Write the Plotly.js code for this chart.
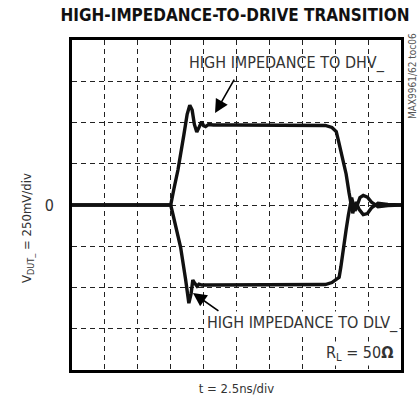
<!DOCTYPE html>
<html>
<head>
<meta charset="utf-8">
<script src="https://cdn.plot.ly/plotly-3.0.1.min.js"></script>
<style>
  html, body { margin: 0; padding: 0; background: #fff; }
  #plot { width: 419px; height: 405px; }
  #plot text { font-stretch: condensed; }
</style>
</head>
<body>
<div id="plot"></div>
<script>
// Time axis in ns (2.5ns/div), voltage in mV (250mV/div)
const timeDhv = [0, 2.5, 5, 7.38, 7.5, 7.75, 8.05, 8.5, 8.75, 8.95, 9.13, 9.3, 9.48, 9.68, 9.85, 10, 10.15, 10.38, 10.75,
  12.5, 15, 17.5, 18.75, 19.25, 19.75, 20.08, 20.25, 20.5, 20.83, 21.05, 21.2, 21.33, 21.45, 21.6, 21.8, 22.13, 22.45,
  22.75, 23.25, 24, 25];
const voltDhv = [0, 0, 2, 2, 0, 100, 212, 425, 550, 605, 575, 488, 442, 475, 505, 480, 475, 488, 485,
  485, 485, 485, 485, 482, 470, 445, 388, 300, 188, 75, 12, -50, -12, 18, -25, -58, -52,
  -18, 10, 3, 0];

const timeDlv = [0, 2.5, 5, 7.38, 7.5, 7.65, 7.95, 8.25, 8.63, 8.88, 9.05, 9.18, 9.33, 9.5, 9.65, 9.88, 10.25,
  12.5, 15, 17.5, 18.75, 19.25, 19.75, 20.3, 20.43, 20.55, 20.83, 21, 21.13, 21.25, 21.38, 21.5, 21.68, 21.88,
  22.13, 22.45, 22.75, 23.25, 24, 25];
const voltDlv = [0, 0, -2, -2, 0, -50, -150, -255, -450, -595, -538, -455, -475, -492, -480, -485, -485,
  -485, -485, -485, -485, -482, -470, -438, -375, -300, -150, -62, 0, 45, 0, -35, 0, 45,
  58, 48, 18, -10, -3, 0];

const gridVolts = [-1000, -750, -500, -250, 0, 250, 500, 750, 1000];
const gridVoltLabels = ['', '', '', '', '0', '', '', '', ''];

const narrow = '"Liberation Sans Narrow", "Arial Narrow", "DejaVu Sans Condensed", sans-serif';

const traces = [
  { x: timeDhv, y: voltDhv, mode: 'lines', line: { color: '#111', width: 3.4 }, hoverinfo: 'skip' },
  { x: timeDlv, y: voltDlv, mode: 'lines', line: { color: '#111', width: 3.4 }, hoverinfo: 'skip' }
];

const layout = {
  width: 419,
  height: 405,
  margin: { l: 72, r: 18, t: 40, b: 35 },
  paper_bgcolor: '#fff',
  plot_bgcolor: '#fff',
  showlegend: false,
  font: { family: narrow, color: '#222' },
  title: {
    text: '<b>HIGH-IMPEDANCE-TO-DRIVE TRANSITION</b>',
    font: { family: narrow, size: 17, color: '#111' },
    x: 235 / 419, xanchor: 'center',
    y: 1 - 15 / 405, yanchor: 'middle'
  },
  xaxis: {
    range: [0, 25],
    dtick: 2.5,
    showticklabels: false,
    ticks: '',
    showgrid: true,
    gridcolor: '#222',
    gridwidth: 1,
    griddash: '5px,4px',
    zeroline: false,
    showline: true,
    linecolor: '#000',
    linewidth: 3,
    mirror: true,
    title: { text: 't = 2.5ns/div', font: { size: 13, color: '#333' }, standoff: 12 }
  },
  yaxis: {
    range: [-1000, 1000],
    tickmode: 'array',
    tickvals: gridVolts,
    ticktext: gridVoltLabels,
    tickfont: { size: 16, color: '#333' },
    ticklabelstandoff: 12,
    ticks: '',
    showgrid: true,
    gridcolor: '#222',
    gridwidth: 1,
    griddash: '5px,4px',
    zeroline: false,
    showline: true,
    linecolor: '#000',
    linewidth: 3,
    mirror: true
  },
  annotations: [
    {
      text: 'V<sub>DUT_</sub> = 250mV/div',
      xref: 'paper', yref: 'paper',
      x: (27 - 72) / 329, y: (370 - 228) / 330, xanchor: 'center', yanchor: 'middle',
      textangle: -90, showarrow: false,
      font: { size: 13, color: '#333' }
    },
    {
      text: 'HIGH IMPEDANCE TO DHV_',
      xref: 'paper', yref: 'paper',
      x: (287 - 72) / 329, y: (370 - 63) / 330, xanchor: 'center', yanchor: 'middle',
      showarrow: false, font: { size: 16, color: '#333' }
    },
    {
      text: 'HIGH IMPEDANCE TO DLV_',
      xref: 'paper', yref: 'paper',
      x: (302 - 72) / 329, y: (370 - 323) / 330, xanchor: 'center', yanchor: 'middle',
      showarrow: false, font: { size: 16, color: '#333' }, bgcolor: '#fff'
    },
    {
      text: 'R<sub>L</sub> = 50<b>Ω</b>',
      xref: 'paper', yref: 'paper',
      x: (395 - 72) / 329, y: (370 - 353) / 330, xanchor: 'right', yanchor: 'middle',
      showarrow: false, font: { size: 16, color: '#333' }, bgcolor: '#fff'
    },
    {
      text: 'MAX9961/62 toc06',
      xref: 'paper', yref: 'paper',
      x: (412 - 72) / 329, y: (370 - 76) / 330, xanchor: 'center', yanchor: 'middle',
      textangle: -90, showarrow: false, font: { size: 10, color: '#555' }
    },
    {
      // arrow to the DHV_ trace
      text: '', x: 10.87, y: 557, xref: 'x', yref: 'y',
      ax: 20, ay: -35, showarrow: true,
      arrowhead: 2, arrowsize: 1.7, arrowwidth: 1.6, arrowcolor: '#000'
    },
    {
      // arrow to the DLV_ trace
      text: '', x: 9.19, y: -533, xref: 'x', yref: 'y',
      ax: 27, ay: 19, showarrow: true,
      arrowhead: 2, arrowsize: 1.7, arrowwidth: 1.6, arrowcolor: '#000'
    }
  ]
};

Plotly.newPlot('plot', traces, layout, { staticPlot: true, displayModeBar: false });
</script>
</body>
</html>
